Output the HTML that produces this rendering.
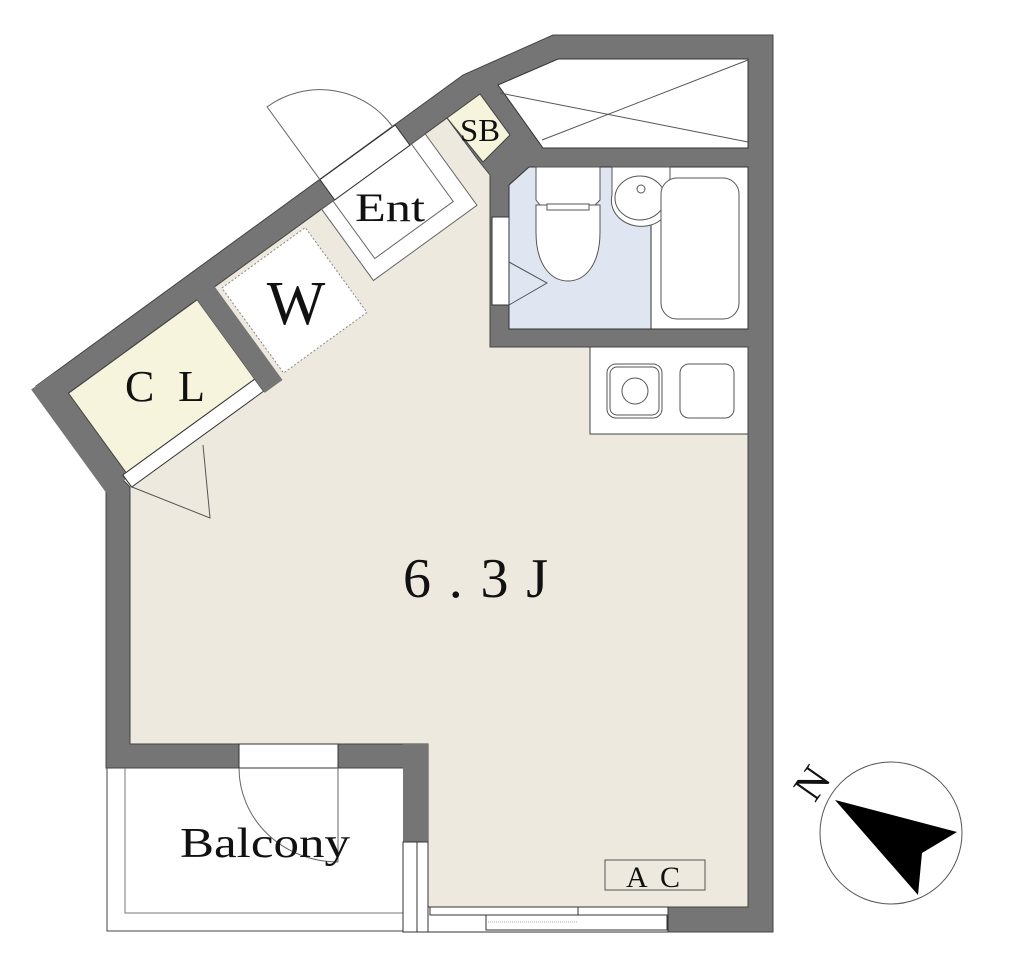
<!DOCTYPE html>
<html><head><meta charset="utf-8"><style>
html,body{margin:0;padding:0;background:#fff;}
svg{display:block;}
text{font-family:"Liberation Serif","Noto Serif CJK SC",serif;fill:#111;}
</style></head><body>
<svg width="1024" height="964" viewBox="0 0 1024 964" xmlns="http://www.w3.org/2000/svg">
<polygon points="553,35 773,35 773,932 405,932 405,768 106,768 106,490 36,386 463,75" fill="#757575" stroke="#444" stroke-width="1"/>
<polygon points="130,744 428,744 428,907 748,907 748,347 490,347 490,175 478,160 447,118 50.7,406 130,487" fill="#ede9df" stroke="#444" stroke-width="1"/>
<g transform="translate(36,386) rotate(-36)">
  <rect x="-6" y="0" width="28" height="128" fill="#757575"/>
  <rect x="22" y="25" width="159" height="98" fill="#f6f4dc" stroke="#444" stroke-width="1"/>
  <rect x="18" y="123" width="163" height="15" fill="#fff" stroke="#333" stroke-width="1"/>
  <rect x="181" y="24" width="22" height="116" fill="#757575"/>
  <rect x="208" y="30" width="103" height="105" fill="#fff" stroke="#888" stroke-width="1" stroke-dasharray="2,2"/>
  <rect x="335" y="25" width="128" height="88" fill="#fff" stroke="#666" stroke-width="1"/>
  <rect x="349" y="25" width="97" height="71" fill="#fff" stroke="#666" stroke-width="1"/>
  <rect x="351" y="0" width="93" height="25" fill="#fff" stroke="#333" stroke-width="1"/>
  <path d="M351,0 L351,-90 A90,90 0 0 1 441,0" fill="none" stroke="#666" stroke-width="1"/>
</g>
<polyline points="132,487 210,518 203,445" fill="none" stroke="#555" stroke-width="1"/>
<polygon points="447,118 480,94 510,135 483,162" fill="#f6f4dc" stroke="#444" stroke-width="1"/>
<polygon points="558,59 748,59 748,148 543,148 498,85" fill="#fff" stroke="#333" stroke-width="1"/>
<line x1="500" y1="93" x2="748" y2="142" stroke="#555" stroke-width="1"/>
<line x1="542" y1="140" x2="748" y2="60" stroke="#555" stroke-width="1"/>
<polygon points="529,167 748,167 748,329 509,329 509,185" fill="#dfe6f2" stroke="#333" stroke-width="1"/>
<rect x="651" y="167" width="97" height="162" fill="#fff" stroke="#333" stroke-width="1"/>
<path d="M612,167 L670,167 L670,205 A28,26 0 0 1 651,225 L651,225 A30,26 0 0 1 612,195 Z" fill="#fff" stroke="#555" stroke-width="1"/>
<ellipse cx="640" cy="198" rx="25" ry="22" fill="#fff" stroke="#555" stroke-width="1"/>
<circle cx="641" cy="189" r="4" fill="#fff" stroke="#555" stroke-width="1"/>
<rect x="661" y="178" width="78" height="141" rx="16" fill="#fff" stroke="#555" stroke-width="1"/>
<path d="M536,167 L600,167 L600,200 L595,205 L540,205 L536,200 Z" fill="#fff" stroke="#555" stroke-width="1"/>
<path d="M536,205 L600,205 L600,232 C600,265 585,281 568,281 C551,281 536,265 536,232 Z" fill="#fff" stroke="#555" stroke-width="1"/>
<rect x="547" y="204" width="42" height="6" fill="#fff" stroke="#555" stroke-width="1"/>
<rect x="492" y="217" width="17" height="88" fill="#fff" stroke="#333" stroke-width="1"/>
<polyline points="509,262 547,283 509,305" fill="none" stroke="#555" stroke-width="1"/>
<rect x="590" y="347" width="158" height="87" fill="#fff" stroke="#444" stroke-width="1"/>
<rect x="607" y="364" width="55" height="54" rx="9" fill="#fff" stroke="#555" stroke-width="1"/>
<rect x="610" y="367" width="49" height="48" rx="7" fill="#fff" stroke="#555" stroke-width="1"/>
<circle cx="635" cy="391" r="13" fill="#fff" stroke="#555" stroke-width="1"/>
<rect x="680" y="364" width="54" height="54" rx="9" fill="#fff" stroke="#555" stroke-width="1"/>
<rect x="107" y="768" width="298" height="163" fill="#fff" stroke="#444" stroke-width="1"/>
<polyline points="125,768 125,913 403,913" fill="none" stroke="#777" stroke-width="1"/>
<rect x="403" y="744" width="25" height="98" fill="#757575"/>
<rect x="403" y="842" width="25" height="90" fill="#fff" stroke="#333" stroke-width="1"/>
<line x1="417" y1="842" x2="417" y2="932" stroke="#333" stroke-width="1"/>
<rect x="239" y="744" width="99" height="24" fill="#fff" stroke="#333" stroke-width="1"/>
<path d="M338,768 L338,862 M239,768 A99,94 0 0 0 338,862" fill="none" stroke="#666" stroke-width="1"/>
<rect x="428" y="907" width="240" height="25" fill="#fff" stroke="#333" stroke-width="1"/>
<rect x="430" y="907" width="148" height="8" fill="#fff" stroke="#333" stroke-width="1"/>
<rect x="486" y="915" width="181" height="15" fill="#fff" stroke="#333" stroke-width="1"/>
<line x1="488" y1="922" x2="578" y2="922" stroke="#aaa" stroke-width="1" stroke-dasharray="1,1"/>
<rect x="605" y="860" width="100" height="30" fill="#ede9df" stroke="#555" stroke-width="1"/>
<text x="626" y="887" font-size="30" textLength="54" lengthAdjust="spacing">A C</text>
<text x="403" y="597" font-size="56" textLength="145" lengthAdjust="spacing">6.3J</text>
<text x="180" y="857" font-size="42" textLength="170" lengthAdjust="spacingAndGlyphs">Balcony</text>
<text x="355" y="221" font-size="40" textLength="70" lengthAdjust="spacingAndGlyphs">Ent</text>
<text x="296" y="324" font-size="62" text-anchor="middle">W</text>
<text x="125" y="401" font-size="44" textLength="80" lengthAdjust="spacing">CL</text>
<text x="460" y="141" font-size="32" textLength="40" lengthAdjust="spacingAndGlyphs">SB</text>
<circle cx="891" cy="833" r="71" fill="#fff" stroke="#555" stroke-width="1"/>
<polygon points="835,800 957,832 922,853 918,895" fill="#000"/>
<text x="812" y="797" font-size="42" text-anchor="middle" transform="rotate(-55 812 783)">N</text>
</svg>
</body></html>
